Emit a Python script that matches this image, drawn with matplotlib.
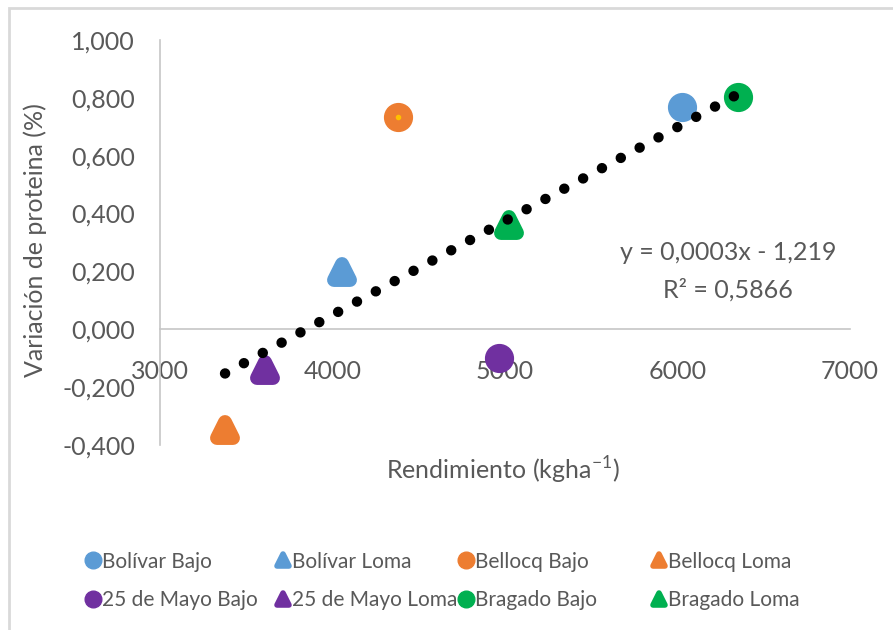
import numpy as np
import matplotlib
matplotlib.use("Agg")
import matplotlib.pyplot as plt
from matplotlib.markers import MarkerStyle
from matplotlib.lines import Line2D
from matplotlib.patches import Rectangle
from matplotlib.ticker import FuncFormatter

plt.rcParams['font.family'] = ['Lato', 'DejaVu Sans']
plt.rcParams['mathtext.fontset'] = 'custom'
plt.rcParams['mathtext.rm'] = 'Lato'

# data
sites = ["Bolívar", "Bellocq", "25 de Mayo", "Bragado"]
colors = ["#5B9BD5", "#ED7D31", "#7030A0", "#00B050"]
bajo_x = [6026, 4380, 4965, 6351]
bajo_y = [0.769, 0.734, -0.100, 0.803]
loma_x = [4055, 3377, 3609, 5023]
loma_y = [0.197, -0.348, -0.141, 0.362]

x_ticks = [3000, 4000, 5000, 6000, 7000]
y_ticks = [-0.4, -0.2, 0.0, 0.2, 0.4, 0.6, 0.8, 1.0]

gray = "#595959"
axis_gray = "#c6c6c6"

fig = plt.figure(figsize=(8.93, 6.30), dpi=100)
ax = fig.add_axes([160 / 893, 1 - 445 / 630, 690 / 893, 405 / 630])

# outer chart frame
fig.patches.append(Rectangle((9 / 893, -0.5), 2, 1.5 - 8 / 630, transform=fig.transFigure,
                             fill=False, edgecolor="#d9d9d9", linewidth=2))

tri = MarkerStyle('^', joinstyle='round')

# trendline fitted from all points
all_x = np.array(bajo_x + loma_x)
all_y = np.array(bajo_y + loma_y)
slope, intercept = np.polyfit(all_x, all_y, 1)
tx = np.array([all_x.min(), all_x.max()])

handles = {}
for name, c, bx, by, lx, ly in zip(sites, colors, bajo_x, bajo_y, loma_x, loma_y):
    ax.plot(bx, by, 'o', ms=20, color=c, mec=c, zorder=3)
    ax.plot(lx, ly, marker=tri, ms=12, color=c, mec=c, mew=10, zorder=3)
    handles[name + " Bajo"] = Line2D([], [], marker='o', ls='none', ms=12, color=c)
    handles[name + " Loma"] = Line2D([], [], marker=tri, ls='none', ms=9, color=c, mec=c, mew=4)

# small yellow dot inside Bellocq Bajo
ax.plot(bajo_x[1], bajo_y[1], 'o', ms=3, color="#FFC000", zorder=4)

ax.plot(tx, slope * tx + intercept, color="black", lw=7.5, ls=(0, (0.01, 2.05)),
        dash_capstyle='round', zorder=5)

ax.set_xlim(3000, 7000)
ax.set_ylim(-0.4, 1.0)
ax.set_xticks(x_ticks)
ax.set_yticks(y_ticks)
ax.xaxis.set_major_formatter(FuncFormatter(lambda v, p: f"{int(v)}"))
ax.yaxis.set_major_formatter(FuncFormatter(lambda v, p: f"{v:.3f}".replace(".", ",").replace("-0,000", "0,000")))

for s in ['top', 'right']:
    ax.spines[s].set_visible(False)
ax.spines['bottom'].set_position(('data', 0))
ax.spines['bottom'].set_color(axis_gray)
ax.spines['left'].set_color(axis_gray)
ax.spines['bottom'].set_linewidth(1.2)
ax.spines['left'].set_linewidth(1.2)
ax.tick_params(axis='both', length=0, labelsize=18, labelcolor=gray)
ax.tick_params(axis='x', pad=22)
ax.tick_params(axis='y', pad=18)

fig.text(503 / 893, 1 - 470 / 630, r"Rendimiento (kgha$^{\mathregular{-1}}$)", ha='center', va='center',
         fontsize=18, color=gray)
fig.text(35 / 893, 1 - 240 / 630, "Variación de proteina (%)", rotation=90, ha='center', va='center',
         fontsize=18, color=gray)

fig.text(728 / 893, 1 - 253 / 630, "y = 0,0003x - 1,219", ha='center', va='center', fontsize=18, color=gray)
fig.text(728 / 893, 1 - 290 / 630, "R² = 0,5866", ha='center', va='center', fontsize=18, color=gray)

# legend laid out as four equal columns, one legend per column
columns = [["Bolívar Bajo", "25 de Mayo Bajo"], ["Bolívar Loma", "25 de Mayo Loma"],
           ["Bellocq Bajo", "Bragado Bajo"], ["Bellocq Loma", "Bragado Loma"]]
col_left = [87, 277, 460, 653]
for labels, x0 in zip(columns, col_left):
    leg = fig.legend([handles[k] for k in labels], labels, loc='center left',
                     bbox_to_anchor=(x0 / 893, 1 - 581 / 630), frameon=False, fontsize=15,
                     handlelength=0.6, handletextpad=0.1, labelspacing=0.9, borderpad=0, borderaxespad=0)
    for t in leg.get_texts():
        t.set_color(gray)

fig.savefig("out.png", dpi=100)
